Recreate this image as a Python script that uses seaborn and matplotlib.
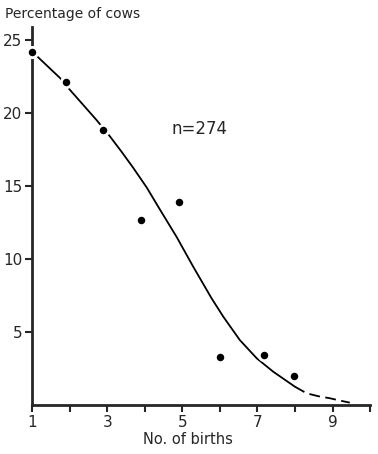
import matplotlib
matplotlib.use("Agg")
import matplotlib.pyplot as plt
import seaborn as sns
import pandas as pd

# -----------------------------
# Data
# -----------------------------
births = [1.0, 1.9, 2.9, 3.9, 4.9, 6.0, 7.17, 7.97]
pct_cows = [24.2, 22.1, 18.8, 12.7, 13.9, 3.3, 3.4, 2.0]

# fitted curve, solid part
curve_x = [1.0, 1.74, 2.0, 2.72, 3.07, 3.38, 3.69, 4.05, 4.40, 4.85,
           5.29, 5.78, 6.09, 6.53, 6.98, 7.42, 8.0]
curve_y = [24.2, 22.4, 21.6, 19.5, 18.4, 17.35, 16.25, 14.9, 13.4, 11.5,
           9.47, 7.3, 6.05, 4.45, 3.2, 2.28, 1.25]
# extrapolated part, dashed
tail_x = [8.0, 8.31, 8.62, 8.93, 9.2, 9.46]
tail_y = [1.25, 0.8, 0.6, 0.46, 0.3, 0.16]

xticks = [1, 2, 3, 4, 5, 6, 7, 8, 9, 10]
xticklabels = ["1", "", "3", "", "5", "", "7", "", "9", ""]
yticks = [5, 10, 15, 20, 25]

pts = pd.DataFrame({"births": births, "pct": pct_cows})
fit = pd.DataFrame({"x": curve_x, "y": curve_y})
tail = pd.DataFrame({"x": tail_x, "y": tail_y})

# -----------------------------
# Plot
# -----------------------------
sns.set_style("ticks")
plt.rcParams["font.family"] = ["DejaVu Sans"]

fig = plt.figure(figsize=(3.78, 4.54), dpi=100)
ax = fig.add_axes([0.085, 0.108, 0.894, 0.833])

sns.lineplot(data=fit, x="x", y="y", sort=False, color="black", linewidth=1.3, ax=ax)
sns.lineplot(data=tail, x="x", y="y", sort=False, color="black", linewidth=1.3,
             linestyle=(0, (6, 3)), ax=ax)
sns.scatterplot(data=pts, x="births", y="pct", color="black", s=55,
                edgecolor="white", linewidth=2, zorder=5, clip_on=False, ax=ax)

ax.text(4.72, 18.9, "n=274", fontsize=12, va="center", ha="left")

ax.set_xlim(1, 10)
ax.set_ylim(0, 25.9)
ax.set_xticks(xticks)
ax.set_xticklabels(xticklabels, fontsize=11)
ax.set_yticks(yticks)
ax.set_yticklabels([str(v) for v in yticks], fontsize=11)
ax.tick_params(axis="both", direction="out", length=5, width=1.5, pad=2)
ax.set_xlabel("No. of births", fontsize=10.5, labelpad=0)
ax.xaxis.set_label_coords(0.462, -0.072)
ax.set_ylabel("")
sns.despine(ax=ax)
for side in ["left", "bottom"]:
    ax.spines[side].set_linewidth(2)

fig.text(5 / 378, 1 - 14 / 454, "Percentage of cows", fontsize=10, ha="left", va="center")

fig.savefig("out.png", dpi=100)
